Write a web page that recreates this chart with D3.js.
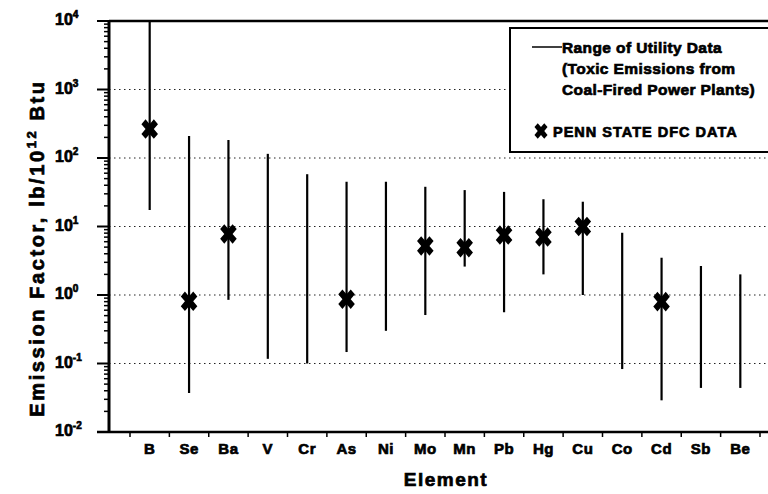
<!DOCTYPE html>
<html>
<head>
<meta charset="utf-8">
<script src="https://cdn.jsdelivr.net/npm/d3@7"></script>
<style>
body { margin: 0; background: #fff; }
text { font-family: "Liberation Sans", Arial, sans-serif; font-weight: bold; fill: #000; stroke: #000; stroke-width: 0.7px; }
</style>
</head>
<body>
<script>
var width = 768, height = 494;

// data
var elements = ["B", "Se", "Ba", "V", "Cr", "As", "Ni", "Mo", "Mn", "Pb", "Hg", "Cu", "Co", "Cd", "Sb", "Be"];
var rangeHigh = [10000, 210, 183, 115, 58, 45, 45, 38, 34, 32, 25, 23, 8.1, 3.5, 2.65, 2.0];
var rangeLow = [17.4, 0.037, 0.85, 0.117, 0.1, 0.147, 0.30, 0.51, 2.6, 0.56, 2.0, 1.0, 0.083, 0.029, 0.044, 0.044];
var dfcValue = [265, 0.81, 7.8, null, null, 0.87, null, 5.2, 4.9, 7.5, 7.0, 10, null, 0.8, null, null];
var yTickExp = [4, 3, 2, 1, 0, -1, -2];

var plotLeft = 109, plotRight = 768, plotTop = 21, plotBottom = 432;

var svg = d3.select("body").append("svg")
  .attr("width", width)
  .attr("height", height);

var y = d3.scaleLog().domain([0.01, 10000]).range([plotBottom, plotTop]);
var x = d3.scaleBand().domain(elements).range([130, 760]).padding(0);

// dotted grid lines at decades
svg.append("g").selectAll("line")
  .data(yTickExp.filter(function(e) { return e < 4 && e > -2; }))
  .enter().append("line")
  .attr("x1", plotLeft).attr("x2", plotRight)
  .attr("y1", function(e) { return y(Math.pow(10, e)); })
  .attr("y2", function(e) { return y(Math.pow(10, e)); })
  .attr("stroke", "#222")
  .attr("stroke-width", 1)
  .attr("stroke-dasharray", "1.5,3.5");

// top frame line
svg.append("line").attr("x1", plotLeft).attr("x2", plotRight).attr("y1", plotTop).attr("y2", plotTop)
  .attr("stroke", "#000").attr("stroke-width", 2.5);

// y axis with minor ticks
var minor = [];
for (var e = -2; e < 4; e++) {
  for (var m = 2; m < 10; m++) minor.push(m * Math.pow(10, e));
}
svg.append("g").selectAll("line.minor")
  .data(minor).enter().append("line")
  .attr("x1", plotLeft - 5).attr("x2", plotLeft)
  .attr("y1", function(d) { return y(d); })
  .attr("y2", function(d) { return y(d); })
  .attr("stroke", "#000").attr("stroke-width", 1.5);

svg.append("g").selectAll("line.major")
  .data(yTickExp).enter().append("line")
  .attr("x1", plotLeft - 12).attr("x2", plotLeft)
  .attr("y1", function(e) { return y(Math.pow(10, e)); })
  .attr("y2", function(e) { return y(Math.pow(10, e)); })
  .attr("stroke", "#000").attr("stroke-width", 2);

svg.append("line").attr("x1", plotLeft).attr("x2", plotLeft).attr("y1", plotTop - 1).attr("y2", plotBottom + 1)
  .attr("stroke", "#000").attr("stroke-width", 3);

var yLab = svg.append("g").selectAll("text")
  .data(yTickExp).enter().append("text")
  .attr("x", 55)
  .attr("y", function(e) { return y(Math.pow(10, e)) + 4; })
  .style("font-size", "16px");
yLab.append("tspan").text("10");
yLab.append("tspan").attr("dy", -7).style("font-size", "10px")
  .text(function(e) { return e < 0 ? "-" + (-e) : e; });

// x axis
svg.append("line").attr("x1", 97).attr("x2", plotRight).attr("y1", plotBottom).attr("y2", plotBottom)
  .attr("stroke", "#000").attr("stroke-width", 2.5);

var bounds = elements.map(function(d) { return x(d); }).concat([x(elements[elements.length - 1]) + x.bandwidth()]);
svg.append("g").selectAll("line")
  .data(bounds).enter().append("line")
  .attr("x1", function(d) { return d; }).attr("x2", function(d) { return d; })
  .attr("y1", plotBottom).attr("y2", plotBottom + 5)
  .attr("stroke", "#000").attr("stroke-width", 1.5);

svg.append("g").selectAll("text")
  .data(elements).enter().append("text")
  .attr("x", function(d) { return x(d) + x.bandwidth() / 2; })
  .attr("y", 454)
  .attr("text-anchor", "middle")
  .style("font-size", "15px")
  .style("letter-spacing", "0.5px")
  .text(function(d) { return d; });

svg.append("text").attr("x", 446).attr("y", 486)
  .attr("text-anchor", "middle").style("font-size", "19px").style("letter-spacing", "1.5px")
  .text("Element");

var yt = svg.append("text")
  .attr("transform", "translate(44,248) rotate(-90)")
  .attr("text-anchor", "middle")
  .style("font-size", "20px")
  .style("letter-spacing", "2.6px");
yt.append("tspan").text("Emission Factor, lb/10");
yt.append("tspan").attr("dy", -8).style("font-size", "13px").text("12");
yt.append("tspan").attr("dy", 8).text(" Btu");

// range bars
svg.append("g").selectAll("line")
  .data(elements).enter().append("line")
  .attr("x1", function(d) { return x(d) + x.bandwidth() / 2; })
  .attr("x2", function(d) { return x(d) + x.bandwidth() / 2; })
  .attr("y1", function(d, i) { return y(rangeHigh[i]); })
  .attr("y2", function(d, i) { return y(rangeLow[i]); })
  .attr("stroke", "#000").attr("stroke-width", 2.2);

// DFC markers
var xMark = d3.symbol().type(d3.symbolCross).size(190);
svg.append("g").selectAll("path")
  .data(elements.filter(function(d, i) { return dfcValue[i] != null; }))
  .enter().append("path")
  .attr("d", xMark)
  .attr("fill", "#000")
  .attr("transform", function(d) {
    var i = elements.indexOf(d);
    return "translate(" + (x(d) + x.bandwidth() / 2) + "," + y(dfcValue[i]) + ") scale(0.95,1.12) rotate(45)";
  });

// legend
var lg = svg.append("g");
lg.append("rect").attr("x", 510).attr("y", 28).attr("width", 270).attr("height", 124)
  .attr("fill", "#fff").attr("stroke", "#000").attr("stroke-width", 2);
lg.append("line").attr("x1", 532).attr("x2", 562).attr("y1", 47).attr("y2", 47)
  .attr("stroke", "#000").attr("stroke-width", 1.5);
var legLines = ["Range of Utility Data", "(Toxic Emissions from", "Coal-Fired Power Plants)"];
lg.selectAll("text.l").data(legLines).enter().append("text")
  .attr("x", 562)
  .attr("y", function(d, i) { return 53 + i * 21; })
  .style("font-size", "15.5px")
  .style("letter-spacing", "0.4px")
  .text(function(d) { return d; });
lg.append("path").attr("d", xMark).attr("fill", "#000")
  .attr("transform", "translate(541,131) scale(0.75,0.9) rotate(45)");
lg.append("text").attr("x", 553).attr("y", 137).style("font-size", "14.5px")
  .style("letter-spacing", "1px")
  .text("PENN STATE DFC DATA");
</script>
</body>
</html>
